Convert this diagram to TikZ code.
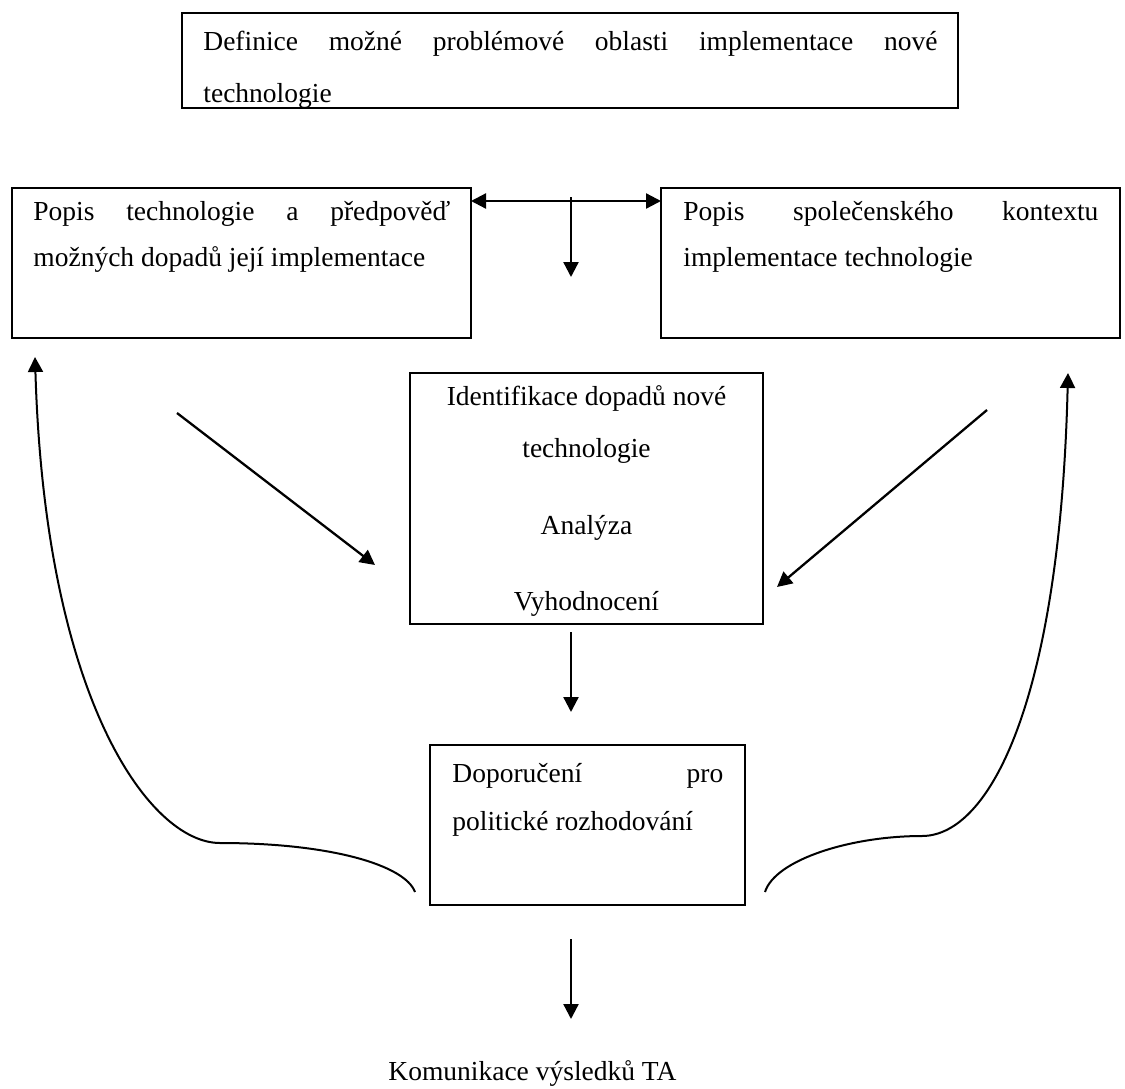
\documentclass[tikz,border=0pt]{standalone}
\usepackage{fontspec}
\setmainfont{Liberation Serif}
\usetikzlibrary{arrows.meta}
\begin{document}
\begin{tikzpicture}[x=0.5pt,y=-0.5pt,
  box/.style={draw, line width=0.8pt, outer sep=0pt, inner sep=0pt, anchor=north west},
  txt/.style={inner sep=0pt, anchor=base west, font=\fontsize{13.75}{16}\selectfont},
  ctxt/.style={inner sep=0pt, anchor=base, font=\fontsize{13.75}{16}\selectfont},
  tip/.style={-{Triangle[length=7.5pt,width=7.5pt]}},
  arr/.style={line width=1.15pt, tip},
  darr/.style={line width=1.15pt, {Triangle[length=7.5pt,width=7.5pt]}-{Triangle[length=7.5pt,width=7.5pt]}},
  curv/.style={line width=1pt, tip},
]
\useasboundingbox (0,0) rectangle (1125,1088);

% boxes
\node[box, minimum width=388pt, minimum height=47.5pt] (top) at (182,13) {};
\node[box, minimum width=229.5pt, minimum height=75pt] (left) at (12,188) {};
\node[box, minimum width=229.5pt, minimum height=75pt] (right) at (661,188) {};
\node[box, minimum width=176.5pt, minimum height=125.5pt] (mid) at (410,373) {};
\node[box, minimum width=157.5pt, minimum height=80pt] (bot) at (430,745) {};

% texts
\begin{scope}
\clip (top.north west) rectangle (top.south east);
\node[txt] (t1) at (203,50) {\makebox[367pt][s]{Definice možné problémové oblasti implementace nové}};
\node[txt] (t2) at (203,102) {technologie};
\end{scope}

\node[txt] (l1) at (33,220) {\makebox[208.5pt][s]{Popis technologie a předpověď}};
\node[txt] (l2) at (33,266) {možných dopadů její implementace};

\node[txt] (r1) at (683,220) {\makebox[207.5pt][s]{Popis společenského kontextu}};
\node[txt] (r2) at (683,266) {implementace technologie};

\node[ctxt] (m1) at (586.5,405) {Identifikace dopadů nové};
\node[ctxt] (m2) at (586.5,457) {technologie};
\node[ctxt] (m3) at (586.5,534) {Analýza};
\node[ctxt] (m4) at (586.5,610) {Vyhodnocení};

\node[txt] (b1) at (452,782) {\makebox[135.5pt][s]{Doporučení pro}};
\node[txt] (b2) at (452,830) {politické rozhodování};

\node[txt] (kom) at (388,1080) {Komunikace výsledků TA};

% connector coordinates
\coordinate (dy) at (0,201);
\coordinate (v1) at (571,197);
\coordinate (v2) at (571,277);
\coordinate (a1) at (571,632);
\coordinate (a2) at (571,712);
\coordinate (k1) at (571,939);
\coordinate (k2) at (571,1019);
\coordinate (d1s) at (177,413);
\coordinate (d1e) at (375,565);
\coordinate (d2s) at (987,410);
\coordinate (d2e) at (777,587);
\coordinate (c1s) at (415,892);
\coordinate (c1m) at (220,843);
\coordinate (c1e) at (35,357);
\coordinate (c2s) at (765,892);
\coordinate (c2m) at (922,836);
\coordinate (c2e) at (1068,373);

% connectors
\draw[darr] (left.east |- dy) -- (right.west |- dy);
\draw[arr] (v1) -- (v2);
\draw[arr] (a1) -- (a2);
\draw[arr] (k1) -- (k2);
\draw[arr] (d1s) -- (d1e);
\draw[arr] (d2s) -- (d2e);
\draw[curv] (c1s) .. controls (405,865) and (330,843) .. (c1m)
  .. controls (150,843) and (45,700) .. (c1e);
\draw[curv] (c2s) .. controls (775,860) and (850,836) .. (c2m)
  .. controls (990,836) and (1060,700) .. (c2e);
\end{tikzpicture}
\end{document}
